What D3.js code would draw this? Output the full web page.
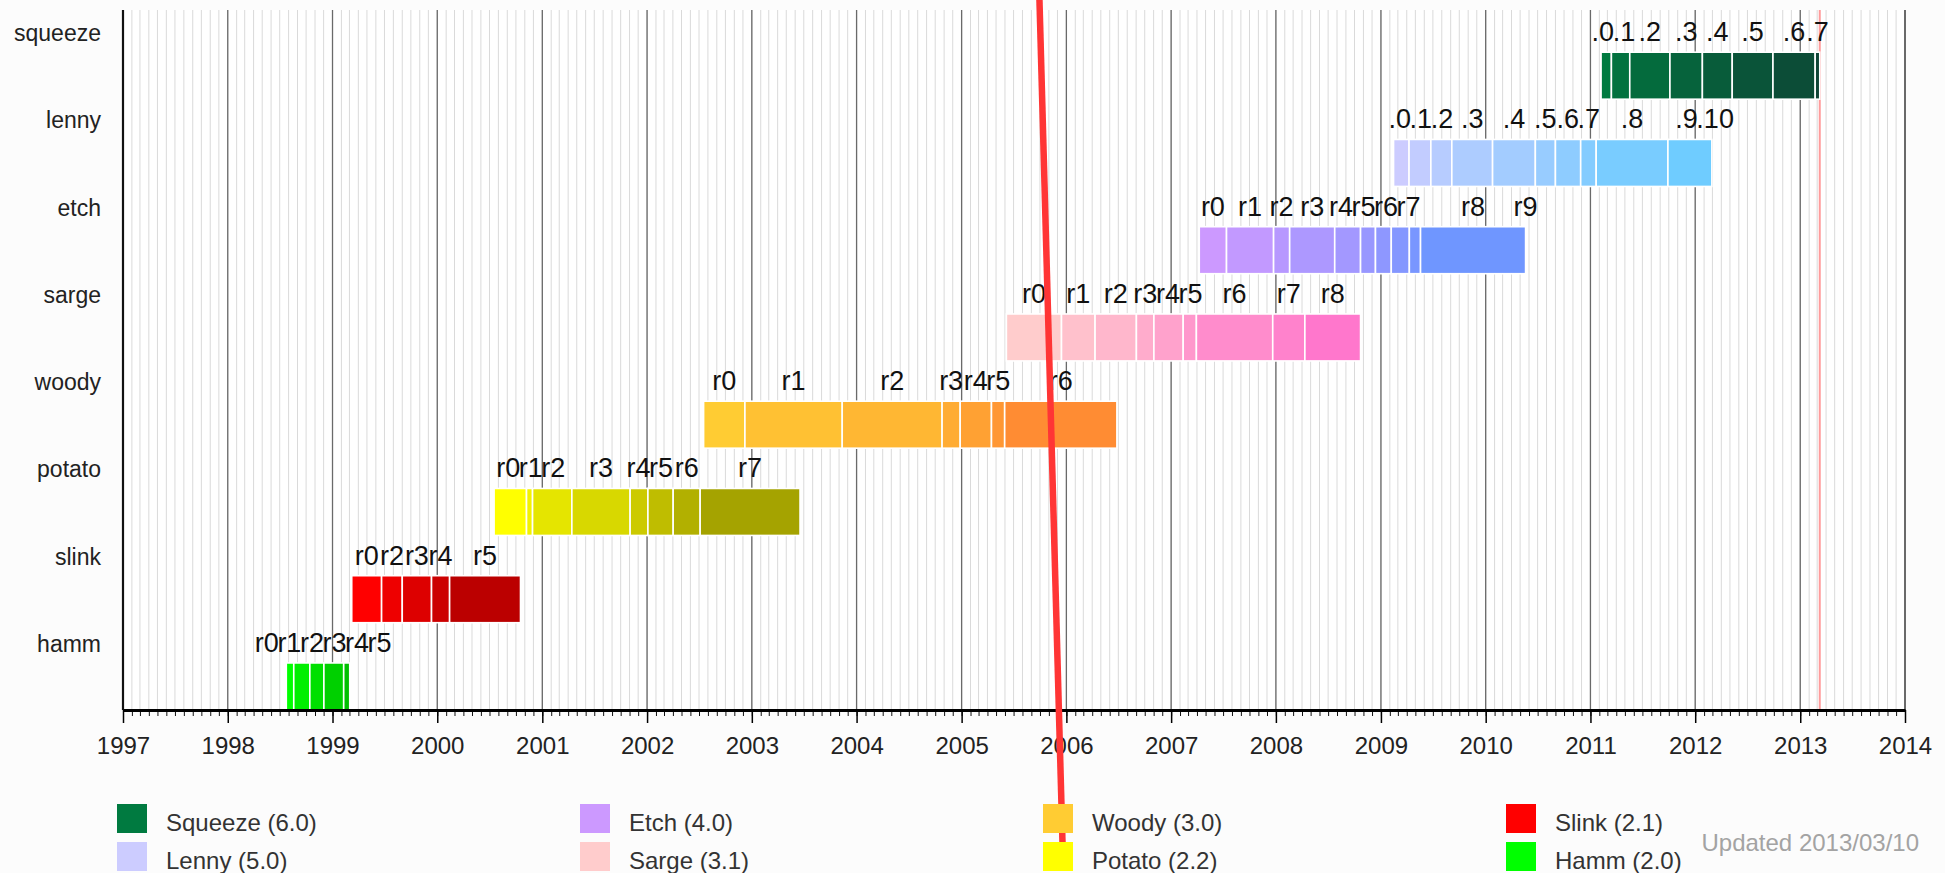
<!DOCTYPE html>
<html>
<head>
<meta charset="utf-8">
<script src="https://cdn.jsdelivr.net/npm/d3@7"></script>
<style>
body { margin: 0; background: #fcfcfc; }
svg { display: block; font-family: "Liberation Sans", Arial, sans-serif; }
</style>
</head>
<body>
<svg id="drawing_region"></svg>
<script>
const branch_names = ["squeeze", "lenny", "etch", "sarge", "woody", "potato", "slink", "hamm"];

// segment boundaries: each point release starts a segment, last date closes the bar
const squeeze_dates = ["2011-02-07", "2011-03-15", "2011-05-18", "2011-10-05", "2012-01-26", "2012-05-09", "2012-09-28", "2013-02-22", "2013-03-10"];
const squeeze_labels = [".0", ".1", ".2", ".3", ".4", ".5", ".6", ".7"];

const lenny_dates = ["2009-02-14", "2009-04-09", "2009-06-24", "2009-09-05", "2010-01-25", "2010-06-23", "2010-09-01", "2010-11-28", "2011-01-21", "2011-09-28", "2012-02-28"];
const lenny_labels = [".0", ".1", ".2", ".3", ".4", ".5", ".6", ".7", ".8", ".9", ".10"];

const etch_dates = ["2007-04-09", "2007-07-13", "2007-12-24", "2008-02-18", "2008-07-24", "2008-10-22", "2008-12-13", "2009-02-06", "2009-04-10", "2009-05-19", "2010-05-20"];
const etch_labels = ["r0", "r1", "r2", "r3", "r4", "r5", "r6", "r7", null, "r8", "r9"];

const sarge_dates = ["2005-06-06", "2005-12-15", "2006-04-11", "2006-09-02", "2006-11-02", "2007-02-12", "2007-03-30", "2007-12-21", "2008-04-11", "2008-10-22"];
const sarge_labels = ["r0", "r1", "r2", "r3", "r4", "r5", "r6", "r7", "r8"];

const woody_dates = ["2002-07-17", "2002-12-08", "2003-11-12", "2004-10-25", "2004-12-27", "2005-04-15", "2005-05-31", "2006-06-26"];
const woody_labels = ["r0", "r1", "r2", "r3", "r4", "r5", "r6"];

const potato_dates = ["2000-07-17", "2000-11-07", "2000-11-28", "2001-04-14", "2001-11-03", "2002-01-04", "2002-04-02", "2002-07-05", "2003-06-18"];
const potato_labels = ["r0", "r1", "r2", "r3", "r4", "r5", "r6", "r7"];

const slink_dates = ["1999-03-09", "1999-06-21", "1999-09-01", "1999-12-12", "2000-02-13", "2000-10-17"];
const slink_labels = ["r0", "r2", "r3", "r4", "r5"];

const hamm_dates = ["1998-07-24", "1998-08-19", "1998-10-14", "1998-12-02", "1999-02-09", "1999-03-02"];
const hamm_labels = ["r0", "r1", "r2", "r3", "r4", "r5"];

const legend_names = ["Squeeze (6.0)", "Lenny (5.0)", "Etch (4.0)", "Sarge (3.1)", "Woody (3.0)", "Potato (2.2)", "Slink (2.1)", "Hamm (2.0)"];
const updated_text = "Updated 2013/03/10";
const today = "2013-03-10";

const release_dates = { squeeze: squeeze_dates, lenny: lenny_dates, etch: etch_dates, sarge: sarge_dates,
                        woody: woody_dates, potato: potato_dates, slink: slink_dates, hamm: hamm_dates };
const release_labels = { squeeze: squeeze_labels, lenny: lenny_labels, etch: etch_labels, sarge: sarge_labels,
                         woody: woody_labels, potato: potato_labels, slink: slink_labels, hamm: hamm_labels };

// first and last segment colour of each branch
const branch_colors = {
    squeeze: ["#007a40", "#0e4536"],
    lenny:   ["#ccccff", "#6fccff"],
    etch:    ["#cc99ff", "#6f96ff"],
    sarge:   ["#ffcccc", "#ff77cc"],
    woody:   ["#ffcc33", "#ff8c33"],
    potato:  ["#ffff00", "#a5a300"],
    slink:   ["#ff0000", "#bb0000"],
    hamm:    ["#00ff00", "#00c000"]
};

const parse = d3.timeParse("%Y-%m-%d");

const data = branch_names.map( name => ({
    name: name,
    dates: release_dates[name].map( parse ),
    labels: release_labels[name]
}));

class Timeline {

    constructor( config, data ) {
        this.config = config;
        this.data = data;
        this.init();
    }

    init() {
        let self = this;

        self.svg = d3.select( self.config.parent )
            .attr('width', self.config.width)
            .attr('height', self.config.height);

        self.chart = self.svg.append('g')
            .attr('transform', `translate(${self.config.margin.left}, ${self.config.margin.top})`);

        self.inner_width = self.config.width - self.config.margin.left - self.config.margin.right;
        self.inner_height = self.config.plot_height;

        self.xscale = d3.scaleTime()
            .domain( [parse("1997-01-01"), parse("2014-01-01")] )
            .range( [0, self.inner_width] );

        self.yscale = d3.scaleBand()
            .domain( branch_names )
            .range( [2, self.inner_height] );
    }

    render() {
        let self = this;
        const x = self.xscale;
        const h = self.inner_height;

        self.chart.append('rect')
            .attr('width', self.inner_width)
            .attr('height', h)
            .attr('fill', '#fff');

        // monthly grid
        self.chart.append('g').selectAll('line')
            .data( x.ticks(d3.timeMonth.every(1)) )
            .join('line')
            .attr('x1', d => x(d)).attr('x2', d => x(d))
            .attr('y1', 0).attr('y2', h)
            .attr('stroke', '#dadada')
            .attr('stroke-width', 1);

        // yearly grid
        const years = x.ticks(d3.timeYear.every(1));
        self.chart.append('g').selectAll('line')
            .data( years )
            .join('line')
            .attr('x1', d => x(d)).attr('x2', d => x(d))
            .attr('y1', 0).attr('y2', h)
            .attr('stroke', (d, i) => i == 0 ? '#111' : '#6a6a6a')
            .attr('stroke-width', (d, i) => i == 0 ? 2.2 : (i == years.length - 1 ? 2 : 1.3));

        // today
        self.chart.append('line')
            .attr('x1', x(parse(today))).attr('x2', x(parse(today)))
            .attr('y1', 0).attr('y2', h)
            .attr('stroke', '#ff9c9c')
            .attr('stroke-width', 2);

        // bars
        self.data.forEach( b => {
            const n = b.dates.length - 1;
            const col = d3.interpolateRgb( branch_colors[b.name][0], branch_colors[b.name][1] );
            const y0 = self.yscale(b.name);
            const segs = d3.range(n).map( i => ({ from: b.dates[i], to: b.dates[i + 1], i: i }) );

            self.chart.append('g').selectAll('rect')
                .data( segs )
                .join('rect')
                .attr('x', d => x(d.from))
                .attr('y', y0 + 40.2)
                .attr('width', d => Math.max(0, x(d.to) - x(d.from)))
                .attr('height', 47)
                .attr('fill', d => col(n > 1 ? d.i / (n - 1) : 0))
                .attr('stroke', '#fff')
                .attr('stroke-width', 1.6);

            // labels centred on segments, extra label sits at bar end
            const items = [];
            b.labels.forEach( (lab, i) => {
                if (lab === null) return;
                const cx = i < n ? (x(b.dates[i]) + x(b.dates[i + 1])) / 2 : x(b.dates[n]);
                items.push({ text: lab, cx: cx });
            });

            const g = self.chart.append('g');
            const texts = g.selectAll('text')
                .data( items )
                .join('text')
                .attr('y', y0 + 29)
                .attr('font-size', 27)
                .attr('fill', '#111')
                .attr('text-anchor', 'middle')
                .text( d => d.text );
            texts.each( function(d) { d.w = this.getComputedTextLength(); } );

            // spread overlapping labels apart
            for (let it = 0; it < 60; it++) {
                for (let i = 1; i < items.length; i++) {
                    const a = items[i - 1], c = items[i];
                    const need = (a.w + c.w) / 2 - 1.5;
                    const gap = c.cx - a.cx;
                    if (gap < need) {
                        const s = (need - gap) / 2;
                        a.cx -= s;
                        c.cx += s;
                    }
                }
            }
            texts.attr('x', d => d.cx);
        });

        // branch names
        self.chart.append('g').selectAll('text')
            .data( branch_names )
            .join('text')
            .attr('x', -22)
            .attr('y', d => self.yscale(d) + 29)
            .attr('text-anchor', 'end')
            .attr('font-size', 23)
            .attr('fill', '#222')
            .text( d => d );

        // bottom axis: monthly ticks, then yearly ticks with labels
        const minor = d3.axisBottom( x )
            .ticks( d3.timeMonth.every(1) )
            .tickSize( 6 )
            .tickSizeOuter( 0 )
            .tickFormat( '' );
        const major = d3.axisBottom( x )
            .ticks( d3.timeYear.every(1) )
            .tickSize( 13 )
            .tickSizeOuter( 0 )
            .tickPadding( 14 )
            .tickFormat( d3.timeFormat('%Y') );

        const mg = self.chart.append('g')
            .attr('transform', `translate(0, ${h})`)
            .call( minor );
        mg.select('.domain').remove();
        mg.selectAll('.tick line').attr('stroke', '#111').attr('stroke-width', 1);

        const ag = self.chart.append('g')
            .attr('transform', `translate(0, ${h})`)
            .call( major );
        ag.select('.domain').attr('stroke', '#000').attr('stroke-width', 3);
        ag.selectAll('.tick line').attr('stroke', '#000').attr('stroke-width', 1.5);
        ag.selectAll('.tick text')
            .attr('font-size', 24)
            .attr('font-family', '"Liberation Sans", Arial, sans-serif')
            .attr('fill', '#222');

        // legend
        const legend = self.svg.append('g');
        const items = legend.selectAll('g')
            .data( legend_names )
            .join('g')
            .attr('transform', (d, i) => `translate(${117 + Math.floor(i / 2) * 463}, ${804 + (i % 2) * 38})`);
        items.append('rect')
            .attr('width', 30)
            .attr('height', 29)
            .attr('fill', (d, i) => branch_colors[branch_names[i]][0]);
        items.append('text')
            .attr('x', 49)
            .attr('y', 27)
            .attr('font-size', 24)
            .attr('fill', '#333')
            .text( d => d );

        self.svg.append('text')
            .attr('x', 1919)
            .attr('y', 851)
            .attr('text-anchor', 'end')
            .attr('font-size', 24)
            .attr('fill', '#a3a3a3')
            .text( updated_text );

        // red marker line drawn over the picture
        self.chart.append('line')
            .attr('x1', x(parse("2005-09-29")))
            .attr('y1', -12)
            .attr('x2', x(parse("2005-12-19")))
            .attr('y2', 838)
            .attr('stroke', '#ff3535')
            .attr('stroke-width', 6.5);
    }
}

const config = {
    parent: '#drawing_region',
    width: 1945,
    height: 873,
    plot_height: 700,
    margin: {top: 10, right: 40, bottom: 163, left: 123}
};

const timeline = new Timeline( config, data );
timeline.render();
</script>
</body>
</html>
